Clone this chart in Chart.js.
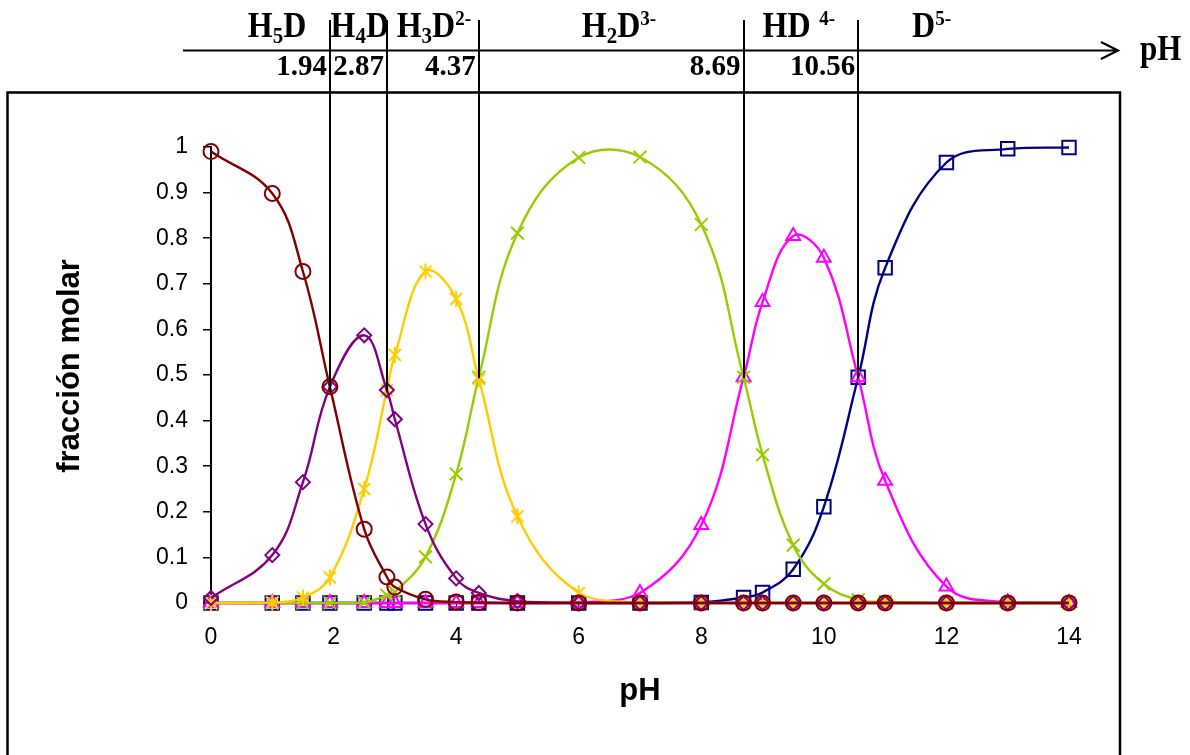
<!DOCTYPE html>
<html>
<head>
<meta charset="utf-8">
<title>Diagrama de distribución de especies</title>
<script src="https://cdn.jsdelivr.net/npm/chart.js@4.4.1/dist/chart.umd.min.js"></script>
<style>
  html, body { margin: 0; padding: 0; background: #fff; }
  canvas { display: block; }
</style>
</head>
<body>
<canvas id="chart" width="1190" height="755"></canvas>
<script>
// pH values where each species fraction was tabulated
const pH = [0, 1, 1.5, 1.94, 2.5, 2.87, 3, 3.5, 4, 4.37, 5, 6, 7, 8, 8.69, 9, 9.5, 10, 10.56, 11, 12, 13, 14];

// molar fraction of each species at those pH values
const fracH5D = [0.99, 0.898, 0.727, 0.474, 0.162, 0.057, 0.035, 0.008, 0.002, 0.001, 0, 0, 0, 0, 0, 0, 0, 0, 0, 0, 0, 0, 0];
const fracH4D = [0.011, 0.105, 0.265, 0.474, 0.587, 0.467, 0.403, 0.173, 0.054, 0.022, 0.004, 0, 0, 0, 0, 0, 0, 0, 0, 0, 0, 0, 0];
const fracH3D = [0, 0.001, 0.012, 0.056, 0.25, 0.467, 0.544, 0.727, 0.667, 0.491, 0.19, 0.022, 0.001, 0, 0, 0, 0, 0, 0, 0, 0, 0, 0];
const fracH2D = [0, 0, 0, 0, 0.001, 0.017, 0.024, 0.101, 0.283, 0.495, 0.811, 0.977, 0.978, 0.83, 0.495, 0.325, 0.127, 0.042, 0.007, 0.003, 0, 0, 0];
const fracHD  = [0, 0, 0, 0, 0, 0, 0, 0, 0, 0, 0, 0.001, 0.022, 0.171, 0.495, 0.66, 0.805, 0.757, 0.495, 0.268, 0.036, 0.001, 0];
const fracD   = [0, 0, 0, 0, 0, 0, 0, 0, 0, 0, 0, 0, 0, 0.001, 0.012, 0.023, 0.074, 0.211, 0.495, 0.735, 0.966, 0.996, 0.999];

// axis ticks
const xTickValues = [0, 2, 4, 6, 8, 10, 12, 14];
const yTickValues = [0, 0.1, 0.2, 0.3, 0.4, 0.5, 0.6, 0.7, 0.8, 0.9, 1];

// acidity constants shown on the pH scale above the plot
const pKa = [1.94, 2.87, 4.37, 8.69, 10.56];
const pKaLabels = ['1.94', '2.87', '4.37', '8.69', '10.56'];
// fraction level where each pKa marker line stops
const pKaLineEnd = [0.463, 0.463, 0.493, 0.493, 0.493];

// predominance zone labels: [text, role] pieces (role: '' normal, 'sub', 'sup')
const zoneLabels = [
  [['H', ''], ['5', 'sub'], ['D', '']],
  [['H', ''], ['4', 'sub'], ['D', '']],
  [['H', ''], ['3', 'sub'], ['D', ''], ['2-', 'sup']],
  [['H', ''], ['2', 'sub'], ['D', ''], ['3-', 'sup']],
  [['HD', ''], ['\u2009 4-', 'sup']],
  [['D', ''], ['5-', 'sup']]
];
// left edge of each zone label, in pH units
const zoneLabelStart = [0.6, 1.95, 3.03, 6.05, 9.0, 11.44];

// star marker (asterisk: an X plus a vertical bar)
function makeStar(color) {
  const c = document.createElement('canvas');
  c.width = 18; c.height = 18;
  const g = c.getContext('2d');
  g.strokeStyle = color; g.lineWidth = 2; g.lineCap = 'butt';
  g.beginPath();
  g.moveTo(3, 3); g.lineTo(15, 15);
  g.moveTo(15, 3); g.lineTo(3, 15);
  g.moveTo(9, 1); g.lineTo(9, 17);
  g.stroke();
  return c;
}

const seriesDefs = [
  { name: 'H5D',    values: fracH5D, color: '#800000', style: 'circle',   radius: 7.5 },
  { name: 'H4D-',   values: fracH4D, color: '#800080', style: 'rectRot',  radius: 7 },
  { name: 'H3D2-',  values: fracH3D, color: '#FFCC00', style: makeStar('#FFCC00'), radius: 9 },
  { name: 'H2D3-',  values: fracH2D, color: '#99CC00', style: 'crossRot', radius: 9 },
  { name: 'HD4-',   values: fracHD,  color: '#FF00FF', style: 'triangle', radius: 8 },
  { name: 'D5-',    values: fracD,   color: '#000080', style: 'rect',     radius: 9.5 }
];

function points(values) {
  return pH.map((x, i) => ({ x: x, y: values[i] }));
}

const SERIF = '"Liberation Serif", "Times New Roman", serif';
const SANS = '"Liberation Sans", Arial, sans-serif';

// draws a chemical formula with sub/superscripts
function drawFormula(ctx, pieces, x0, baseline, size) {
  let x = x0;
  for (const [text, role] of pieces) {
    let fs = size, dy = 0;
    if (role === 'sub') { fs = Math.round(size * 0.66); dy = 6; }
    if (role === 'sup') { fs = Math.round(size * 0.58); dy = -12; }
    ctx.font = 'bold ' + fs + 'px ' + SERIF;
    ctx.save();
    ctx.translate(x, baseline + dy);
    ctx.scale(1, 1.1);
    ctx.fillText(text, 0, 0);
    ctx.restore();
    x += ctx.measureText(text).width;
  }
}

const decorations = {
  id: 'decorations',
  beforeDraw(chart) {
    const ctx = chart.ctx;
    ctx.save();
    ctx.fillStyle = '#fff';
    ctx.fillRect(0, 0, chart.width, chart.height);
    ctx.restore();
  },
  afterDraw(chart) {
    const { ctx } = chart;
    const xs = chart.scales.x, ys = chart.scales.y;
    ctx.save();
    ctx.strokeStyle = '#000';
    ctx.fillStyle = '#000';

    // frame around the plot
    ctx.lineWidth = 2.5;
    ctx.beginPath();
    ctx.moveTo(7.5, 760); ctx.lineTo(7.5, 92.5); ctx.lineTo(1120, 92.5); ctx.lineTo(1120, 760);
    ctx.stroke();

    // pH arrow
    ctx.lineWidth = 2.2;
    ctx.beginPath();
    ctx.moveTo(183, 50.5); ctx.lineTo(1117, 50.5);
    ctx.moveTo(1101, 42); ctx.lineTo(1118, 50.5); ctx.lineTo(1101, 59);
    ctx.stroke();

    ctx.save();
    ctx.font = 'bold 31px ' + SERIF;
    ctx.textAlign = 'left';
    ctx.textBaseline = 'alphabetic';
    ctx.translate(1140, 60);
    ctx.scale(1, 1.15);
    ctx.fillText('pH', 0, 0);
    ctx.restore();

    // pKa lines down to the crossing points
    ctx.lineWidth = 2;
    pKa.forEach((v, i) => {
      const px = Math.round(xs.getPixelForValue(v));
      ctx.beginPath();
      ctx.moveTo(px, 20);
      ctx.lineTo(px, ys.getPixelForValue(pKaLineEnd[i]));
      ctx.stroke();
    });

    // pKa values
    ctx.font = 'bold 29px ' + SERIF;
    ctx.textAlign = 'right';
    ctx.textBaseline = 'alphabetic';
    pKa.forEach((v, i) => {
      ctx.fillText(pKaLabels[i], xs.getPixelForValue(v) - 3, 75);
    });

    // predominance zones
    ctx.textAlign = 'left';
    zoneLabels.forEach((pieces, i) => {
      drawFormula(ctx, pieces, xs.getPixelForValue(zoneLabelStart[i]), 37, 32);
    });

    // y axis title
    ctx.save();
    ctx.translate(70, 366);
    ctx.rotate(-Math.PI / 2);
    ctx.font = 'bold 31px ' + SANS;
    ctx.textAlign = 'center';
    ctx.textBaseline = 'middle';
    ctx.fillText('fracción molar', 0, 0);
    ctx.restore();

    ctx.restore();
  }
};

new Chart(document.getElementById('chart'), {
  type: 'line',
  data: {
    datasets: seriesDefs.map(s => ({
      label: s.name,
      data: points(s.values),
      borderColor: s.color,
      backgroundColor: 'rgba(0,0,0,0)',
      borderWidth: 2.4,
      tension: 0.4,
      fill: false,
      clip: false,
      pointStyle: s.style,
      pointRadius: s.radius,
      pointHoverRadius: s.radius,
      pointBorderColor: s.color,
      pointBackgroundColor: 'rgba(0,0,0,0)',
      pointBorderWidth: 2
    }))
  },
  options: {
    responsive: false,
    animation: false,
    devicePixelRatio: 1,
    layout: { padding: { top: 147, right: 121, left: 0, bottom: 0 } },
    plugins: {
      legend: { display: false },
      tooltip: { enabled: false }
    },
    scales: {
      x: {
        type: 'linear',
        min: 0,
        max: 14,
        afterBuildTicks: s => { s.ticks = xTickValues.map(v => ({ value: v })); },
        afterFit: s => { s.height = 152; },
        ticks: {
          autoSkip: false,
          maxRotation: 0,
          padding: 15,
          color: '#000',
          font: { family: SANS, size: 23 },
          callback: v => String(v)
        },
        grid: { drawOnChartArea: false, drawTicks: true, tickLength: 6, color: '#000', lineWidth: 1 },
        border: { display: true, color: '#000', width: 1 },
        title: {
          display: true,
          text: 'pH',
          color: '#000',
          font: { family: SANS, size: 31, weight: 'bold' },
          padding: { top: 0, bottom: 45 }
        }
      },
      y: {
        min: 0,
        max: 1,
        afterBuildTicks: s => { s.ticks = yTickValues.map(v => ({ value: v })); },
        afterFit: s => { s.width = 211; },
        ticks: {
          padding: 15,
          color: '#000',
          font: { family: SANS, size: 23 },
          callback: v => String(Number(v.toFixed(1)))
        },
        grid: { drawOnChartArea: false, drawTicks: true, tickLength: 8, color: '#000', lineWidth: 1.5 },
        border: { display: true, color: '#000', width: 2 }
      }
    }
  },
  plugins: [decorations]
});
</script>
</body>
</html>
